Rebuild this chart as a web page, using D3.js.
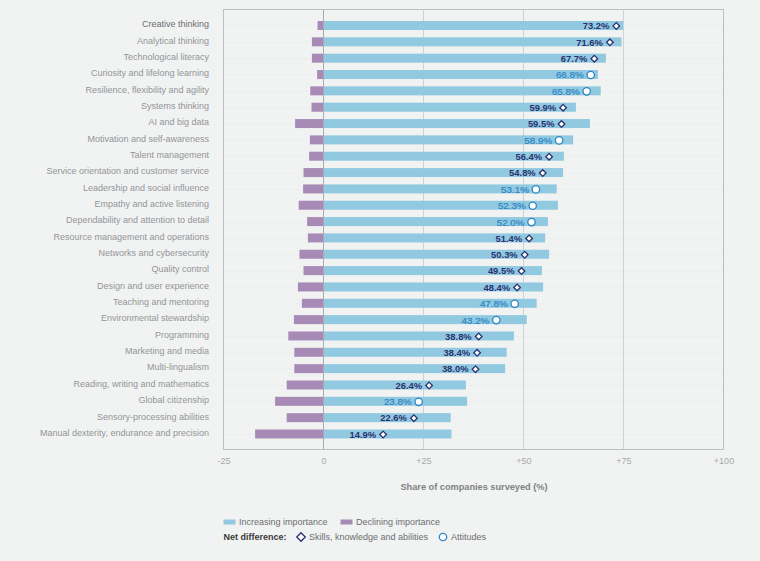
<!DOCTYPE html>
<html>
<head>
<meta charset="utf-8">
<script src="https://cdn.jsdelivr.net/npm/d3@7"></script>
<style>
  html, body { margin: 0; padding: 0; background: #f1f2f2; }
  svg { display: block; font-family: "Liberation Sans", Arial, sans-serif; }
</style>
</head>
<body>
<div id="chart"></div>
<script>
// Data
var skills = [
  "Creative thinking", "Analytical thinking", "Technological literacy",
  "Curiosity and lifelong learning", "Resilience, flexibility and agility",
  "Systems thinking", "AI and big data", "Motivation and self-awareness",
  "Talent management", "Service orientation and customer service",
  "Leadership and social influence", "Empathy and active listening",
  "Dependability and attention to detail", "Resource management and operations",
  "Networks and cybersecurity", "Quality control", "Design and user experience",
  "Teaching and mentoring", "Environmental stewardship", "Programming",
  "Marketing and media", "Multi-lingualism", "Reading, writing and mathematics",
  "Global citizenship", "Sensory-processing abilities",
  "Manual dexterity, endurance and precision"
];
var increasing = [
  74.9, 74.5, 70.6, 68.6, 69.3, 63.1, 66.6, 62.4, 60.1, 59.9, 58.3, 58.6, 56.1,
  55.4, 56.4, 54.6, 54.9, 53.3, 50.8, 47.6, 45.8, 45.4, 35.6, 35.9, 31.8, 32.0
];
var declining = [
  -1.5, -2.9, -2.9, -1.6, -3.3, -3.0, -7.1, -3.4, -3.6, -5.0, -5.1, -6.2, -4.1,
  -3.9, -6.0, -5.0, -6.4, -5.4, -7.4, -8.8, -7.3, -7.3, -9.2, -12.1, -9.2, -17.1
];
var netDifference = [
  73.2, 71.6, 67.7, 66.8, 65.8, 59.9, 59.5, 58.9, 56.4, 54.8, 53.1, 52.3, 52.0,
  51.4, 50.3, 49.5, 48.4, 47.8, 43.2, 38.8, 38.4, 38.0, 26.4, 23.8, 22.6, 14.9
];
// k = skills, knowledge and abilities, a = attitudes
var netType = [
  "k", "k", "k", "a", "a", "k", "k", "a", "k", "k", "a", "a", "a",
  "k", "k", "k", "k", "a", "a", "k", "k", "k", "k", "a", "k", "k"
];
var xTicks = [-25, 0, 25, 50, 75, 100];

var BLUE = "#91c9e1", PURPLE = "#a78bb6", NAVY = "#2a3270", ATT = "#2b86c2";
var GREY = "#bdbfc0", TEXT = "#939598";

var width = 760, height = 561;

var svg = d3.select("#chart").append("svg")
  .attr("width", width)
  .attr("height", height);

var x = d3.scaleLinear().domain([-25, 100]).range([223.5, 723.5]);
var y = d3.scalePoint().domain(d3.range(skills.length)).range([25.5, 434]);
var top_ = 9.5, bottom = 449.5, barH = 9;

// frame and verticals
svg.selectAll(".vgrid")
  .data([25, 50, 75])
  .enter().append("line")
  .attr("class", "vgrid")
  .attr("x1", x).attr("x2", x)
  .attr("y1", top_).attr("y2", bottom)
  .attr("stroke", "#cfd1d2");

svg.append("rect")
  .attr("x", x(-25)).attr("y", top_)
  .attr("width", x(100) - x(-25)).attr("height", bottom - top_)
  .attr("fill", "none").attr("stroke", GREY);

// dotted row lines
svg.selectAll(".row")
  .data(skills)
  .enter().append("line")
  .attr("class", "row")
  .attr("x1", x(-25) + 2).attr("x2", x(100))
  .attr("y1", function(d, i) { return y(i) + 0.5; })
  .attr("y2", function(d, i) { return y(i) + 0.5; })
  .attr("stroke", "#dcdedf")
  .attr("stroke-width", 0.8)
  .attr("stroke-dasharray", "1 3");

// bars
svg.selectAll(".inc")
  .data(increasing)
  .enter().append("rect")
  .attr("class", "inc")
  .attr("x", x(0))
  .attr("y", function(d, i) { return y(i) - barH / 2; })
  .attr("width", function(d) { return x(d) - x(0); })
  .attr("height", barH)
  .attr("fill", BLUE);

svg.selectAll(".dec")
  .data(declining)
  .enter().append("rect")
  .attr("class", "dec")
  .attr("x", function(d) { return x(d); })
  .attr("y", function(d, i) { return y(i) - barH / 2; })
  .attr("width", function(d) { return x(0) - x(d); })
  .attr("height", barH)
  .attr("fill", PURPLE);

// zero line sits on top of the bars
svg.append("line")
  .attr("x1", x(0)).attr("x2", x(0))
  .attr("y1", top_).attr("y2", bottom)
  .attr("stroke", "#a9abae");

// category labels
svg.selectAll(".cat")
  .data(skills)
  .enter().append("text")
  .attr("class", "cat")
  .attr("x", 209)
  .attr("y", function(d, i) { return y(i) - 1.3; })
  .attr("dy", "0.35em")
  .attr("text-anchor", "end")
  .attr("font-size", 9)
  .attr("fill", function(d, i) { return i == 0 ? "#6d6e71" : TEXT; })
  .text(function(d) { return d; });

// net difference labels
svg.selectAll(".net")
  .data(netDifference)
  .enter().append("text")
  .attr("class", "net")
  .attr("x", function(d) { return x(d) - 7; })
  .attr("y", function(d, i) { return y(i) + 0.5; })
  .attr("dy", "0.35em")
  .attr("text-anchor", "end")
  .attr("font-size", function(d, i) { return netType[i] == "k" ? 9.4 : 9.8; })
  .attr("font-weight", function(d, i) { return netType[i] == "k" ? "bold" : "normal"; })
  .attr("fill", function(d, i) { return netType[i] == "k" ? NAVY : ATT; })
  .attr("stroke", function(d, i) { return netType[i] == "k" ? "none" : ATT; })
  .attr("stroke-width", 0.2)
  .text(function(d) { return d.toFixed(1) + "%"; });

// markers
function drawDiamond(sel, size) {
  sel.attr("d", d3.symbol().type(d3.symbolSquare).size(size)())
    .attr("fill", "#fff")
    .attr("stroke", NAVY)
    .attr("stroke-width", 1.3);
}
function drawCircle(sel) {
  sel.attr("r", 3.7)
    .attr("fill", "#fff")
    .attr("stroke", ATT)
    .attr("stroke-width", 1.3);
}

netDifference.forEach(function(d, i) {
  if (netType[i] == "k") {
    svg.append("path")
      .call(drawDiamond, 22)
      .attr("transform", "translate(" + x(d) + "," + (y(i) + 0.5) + ") rotate(45)");
  } else {
    svg.append("circle")
      .call(drawCircle)
      .attr("cx", x(d)).attr("cy", y(i) + 0.5);
  }
});

// x axis
var xAxis = d3.axisBottom(x)
  .tickValues(xTicks)
  .tickSize(0)
  .tickPadding(8)
  .tickFormat(function(d) { return d > 0 ? "+" + d : d; });

var axisG = svg.append("g")
  .attr("transform", "translate(0," + bottom + ")")
  .call(xAxis);
axisG.select(".domain").remove();
axisG.selectAll("text")
  .attr("font-family", "Liberation Sans, Arial, sans-serif")
  .attr("font-size", 9)
  .attr("fill", "#a7a9ac");

svg.append("text")
  .attr("x", 474).attr("y", 490)
  .attr("text-anchor", "middle")
  .attr("font-size", 9.2)
  .attr("font-weight", "bold")
  .attr("fill", "#808285")
  .text("Share of companies surveyed (%)");

// legend
var legend = svg.append("g").attr("font-size", 9).attr("fill", "#6d6e71");

legend.append("rect").attr("x", 223.5).attr("y", 519.5).attr("width", 12).attr("height", 5).attr("fill", BLUE);
legend.append("text").attr("x", 239).attr("y", 525).text("Increasing importance");
legend.append("rect").attr("x", 340.5).attr("y", 519.5).attr("width", 12).attr("height", 5).attr("fill", PURPLE);
legend.append("text").attr("x", 356).attr("y", 525).text("Declining importance");

legend.append("text").attr("x", 223.5).attr("y", 540)
  .attr("font-weight", "bold").attr("fill", "#3a3a3c").text("Net difference:");
legend.append("path").call(drawDiamond, 36)
  .attr("transform", "translate(301,537) rotate(45)");
legend.append("text").attr("x", 309).attr("y", 540).text("Skills, knowledge and abilities");
legend.append("circle").call(drawCircle).attr("cx", 443).attr("cy", 537);
legend.append("text").attr("x", 451).attr("y", 540).text("Attitudes");
</script>
</body>
</html>
